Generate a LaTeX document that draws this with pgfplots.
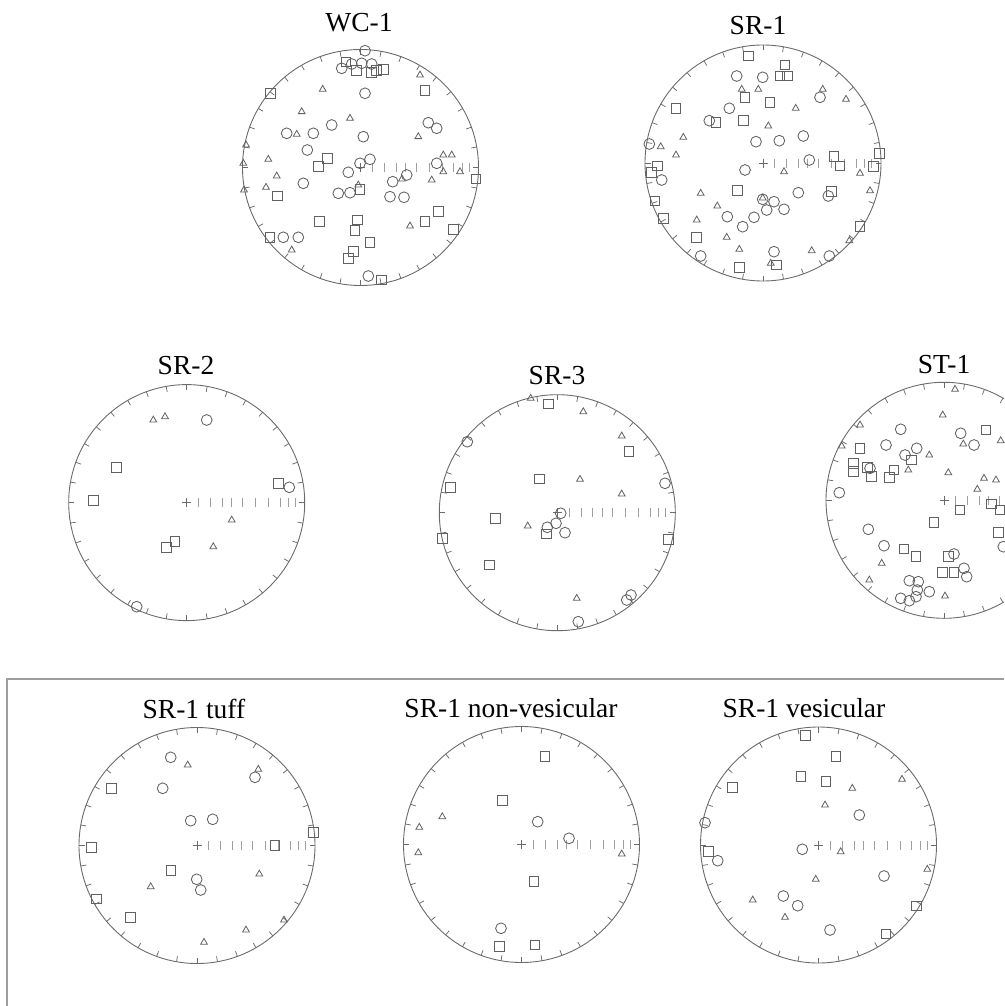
\documentclass[border=0pt]{standalone}
\usepackage{fontspec}
\setmainfont{Liberation Serif}
\usepackage{pgfplots}
\pgfplotsset{compat=1.18}

\definecolor{netgray}{gray}{0.42}
\definecolor{markgray}{gray}{0.38}
\definecolor{boxgray}{gray}{0.62}

\pgfplotsset{
  circ/.style={only marks, mark=o, mark size=5.4,
    mark options={line width=0.85pt, draw=markgray}},
  sq/.style={only marks, mark=square, mark size=4.8,
    mark options={line width=0.85pt, draw=markgray}},
  tri/.style={only marks, mark=triangle, mark size=3.9,
    mark options={line width=0.8pt, draw=markgray}},
}

% primitive circle, 10-degree rim ticks, centre cross and E-W scale
\newcommand{\netframe}[2]{%
  \draw[netgray, line width=0.9pt] (axis cs:#1,#2) circle[radius=118];
  \pgfplotsinvokeforeach{0,10,...,350}{%
    \draw[netgray, line width=0.75pt]
      (axis cs:{#1+118*cos(##1)},{#2+118*sin(##1)}) --
      (axis cs:{#1+112.5*cos(##1)},{#2+112.5*sin(##1)});}
  \draw[netgray, line width=0.8pt] (axis cs:#1-4.5,#2) -- (axis cs:#1+4.5,#2)
    (axis cs:#1,#2-4.5) -- (axis cs:#1,#2+4.5);
  \pgfplotsinvokeforeach{0.10,0.20,0.30,0.38,0.47,0.58,0.69,0.79,0.86,0.92}{%
    \draw[gray!75, line width=0.8pt]
      (axis cs:{#1+118*##1},#2-4.5) -- (axis cs:{#1+118*##1},#2+4.5);}
}
\newcommand{\nettitle}[3]{%
  \node[anchor=base, font=\fontsize{27.5}{30}\selectfont, inner sep=0pt]
    at (axis cs:#1,#2) {#3};}

\begin{document}
\begin{tikzpicture}
\begin{axis}[
  width=1004pt, height=1006pt, scale only axis,
  xmin=0, xmax=1004, ymin=0, ymax=1006, y dir=reverse,
  hide axis, clip=true,
]
% panel box round the three SR-1 sub-sets
\draw[boxgray, line width=1.6pt] (axis cs:7,1006) -- (axis cs:7,679) -- (axis cs:1004,679);

% ---------------- WC-1 ----------------
\netframe{360.5}{167.5}
\nettitle{359}{31.5}{WC-1}
\addplot[circ] coordinates {
 (365,50.7) (341.7,68.3) (351.7,64) (361.7,63.3) (371.7,64) (365,93.3)
 (331.7,125) (428.3,122.7) (436.7,128.3) (286.7,133.3) (313.3,133.3)
 (363.3,136.7) (307.3,150) (370,159.3) (360,163.3) (436.7,163.3)
 (348.3,172.3) (406.7,175) (392.7,181.7) (303.3,183.3) (338.3,193.3)
 (350,192.7) (390,196.7) (404,197.3) (283.3,237.3) (298.3,237.3) (368.3,276)
};
\addplot[sq] coordinates {
 (346,62) (356.7,70.7) (371.7,72.7) (376.7,70.7) (383.3,69.3) (425,90.7)
 (270.7,93.3) (327.3,158.3) (318.3,166.7) (277.3,196) (360,189.3)
 (438.3,211.7) (319.3,221.7) (357.3,220) (355,230.7) (425,221.7)
 (453.3,229.3) (270,237.3) (370,242.3) (353.3,251.7) (348.3,258.3)
 (381.7,280) (476,179)
};
\addplot[tri] coordinates {
 (420,75) (322.7,89.3) (301.7,111.7) (350,118.3) (296.7,134.3) (418.3,136.7)
 (246,145) (268.3,159.3) (243.3,163.3) (443.3,155) (451.7,155)
 (443.3,171.7) (460,171.7) (431.7,180) (276.7,176) (266,187.3)
 (244,190) (358.3,185) (410,226) (291.7,250) (402,179)
};

% ---------------- SR-1 ----------------
\netframe{763}{163}
\nettitle{758}{35}{SR-1}
\addplot[circ] coordinates {
 (736.7,76) (762.7,77.3) (820,97.3) (729.3,108.3) (709.3,120.7) (803.3,136)
 (756,141.7) (779.3,140.7) (649.3,144) (809.3,160) (661.7,180) (745,170)
 (798.3,192.7) (828.3,196) (762.7,199.3) (774,201.7) (766.7,210)
 (784,209.3) (727.3,216.7) (754,217.3) (742.7,226.7) (774,251.7)
 (700.7,256) (829.3,256)
};
\addplot[sq] coordinates {
 (748.3,56) (785,65) (780,76) (787.3,76) (745,97.3) (770,102.7) (676,108.3)
 (716,122.7) (743.3,120.7) (879.3,153.3) (834,156.7) (840,166)
 (657.3,166) (651.7,172.7) (873.3,166.7) (737.3,190.7) (831.7,191.7)
 (655,201) (663.3,218.3) (860,226.7) (696.7,237.3) (739.3,267.3) (776.7,265)
};
\addplot[tri] coordinates {
 (741.7,89.3) (758.3,89.3) (822.7,89.3) (846,99.3) (795.7,108.3) (768.3,126)
 (683.3,137.3) (660.7,146.7) (676,155) (784,171.7) (860,173.3)
 (700.7,193.3) (870,190.7) (762.7,198) (717.3,206) (696.7,220) (726.7,237.3)
 (849.3,240.7) (739.3,249.3) (811.7,250.7) (770.7,263.3)
};

% ---------------- SR-2 ----------------
\netframe{186.7}{502.6}
\nettitle{186}{374}{SR-2}
\addplot[circ] coordinates { (206.7,420) (289.3,487.3) (136.7,606.7) };
\addplot[sq] coordinates {
 (116.7,467.3) (93.3,500.7) (278.3,483.3) (175,541.7) (166.7,547.3)
};
\addplot[tri] coordinates {
 (153.3,420) (165,416.7) (231.7,520) (213.3,546.7)
};

% ---------------- SR-3 ----------------
\netframe{557.3}{512.7}
\nettitle{557}{384}{SR-3}
\addplot[circ] coordinates {
 (467.3,441.7) (665,483.3) (560.7,513.3) (556,523.3) (547.3,527.3)
 (565,532.7) (631,595) (626.7,600) (578.3,621.7)
};
\addplot[sq] coordinates {
 (548.3,404) (629,451.7) (539.3,479) (450.7,487.3) (495.7,518.3)
 (546.7,534) (442.7,538.3) (668.3,539.3) (489.3,565)
};
\addplot[tri] coordinates {
 (530.7,398.3) (583.3,411.7) (621.7,436) (580,479.3) (621.7,494)
 (527.7,526) (576.7,598.3)
};

% ---------------- ST-1 ----------------
\netframe{944}{500.3}
\nettitle{944}{373}{ST-1}
\addplot[circ] coordinates {
 (900.7,429.3) (960.7,433.3) (974,445) (886,445) (916.7,448.3) (905,455)
 (870,468.3) (839.3,492.7) (868.3,529.3) (1003.3,546.7) (884,545.7)
 (954,554) (964,568.3) (966.7,576.7) (909.3,580.7) (918.3,581.7)
 (917.3,590) (929.3,591.7) (900.7,598.3) (909.3,600.7) (916,596.7)
};
\addplot[sq] coordinates {
 (986,430) (860,448.3) (911.7,460) (853.3,463.3) (853.3,471.7) (867.3,467.3)
 (871.7,476.7) (894,470) (889.3,477.7) (991.7,504) (1000,510) (960,510)
 (934,522.7) (998.3,532.7) (904,549) (916,556.7) (948.3,556.7)
 (942.7,572.7) (954,572.7)
};
\addplot[tri] coordinates {
 (955,389.3) (942.7,415) (860,425) (963.3,444) (1000.7,440.7) (841.7,446)
 (929.3,455) (908.3,470) (948.3,472.7) (984,478.3) (996,480) (977.3,489.3)
 (881.7,563.3) (869.3,580) (945,596)
};

% ---------------- SR-1 tuff ----------------
\netframe{197}{845.5}
\nettitle{194}{718}{SR-1 tuff}
\addplot[circ] coordinates {
 (170.7,757.3) (255,777.3) (162.7,788.3) (190.7,820.7) (212.7,819.3)
 (196.7,879.3) (200.7,890)
};
\addplot[sq] coordinates {
 (111.7,788.3) (313.3,832.7) (91.7,847.3) (275,845.7) (171,870.7)
 (96.7,899) (130.7,917.3)
};
\addplot[tri] coordinates {
 (187.7,765) (258.3,769.3) (259.3,874) (150.7,886.7) (284,920) (246,930)
 (204,942.3)
};

% ---------------- SR-1 non-vesicular ----------------
\netframe{521.5}{844.5}
\nettitle{511}{717}{SR-1 non-vesicular}
\addplot[circ] coordinates { (537.7,821.7) (569,838.3) (501,928.3) };
\addplot[sq] coordinates {
 (545,756.7) (502.7,800.7) (534,881.7) (499.3,946.7) (535,945)
};
\addplot[tri] coordinates {
 (442.3,816.7) (419.3,827.3) (418.3,852.7) (621.7,854)
};

% ---------------- SR-1 vesicular ----------------
\netframe{818.5}{845}
\nettitle{804}{717}{SR-1 vesicular}
\addplot[circ] coordinates {
 (859.3,815) (705,822.7) (802.3,849.3) (717.7,860.7) (884,876) (783.3,896)
 (797.7,905.7) (830,930)
};
\addplot[sq] coordinates {
 (805.7,735.7) (836,756.7) (801,776.7) (826,781.7) (732.7,787.3)
 (708.3,851.7) (916.7,906) (886,934)
};
\addplot[tri] coordinates {
 (902,779.3) (852.3,788.3) (825,805) (840.7,851.7) (927.3,869.3)
 (815.7,879.3) (752.7,900) (785,917.3)
};
\end{axis}
\pgfresetboundingbox
\useasboundingbox (current axis.south west) rectangle (current axis.north east);
\end{tikzpicture}
\end{document}
